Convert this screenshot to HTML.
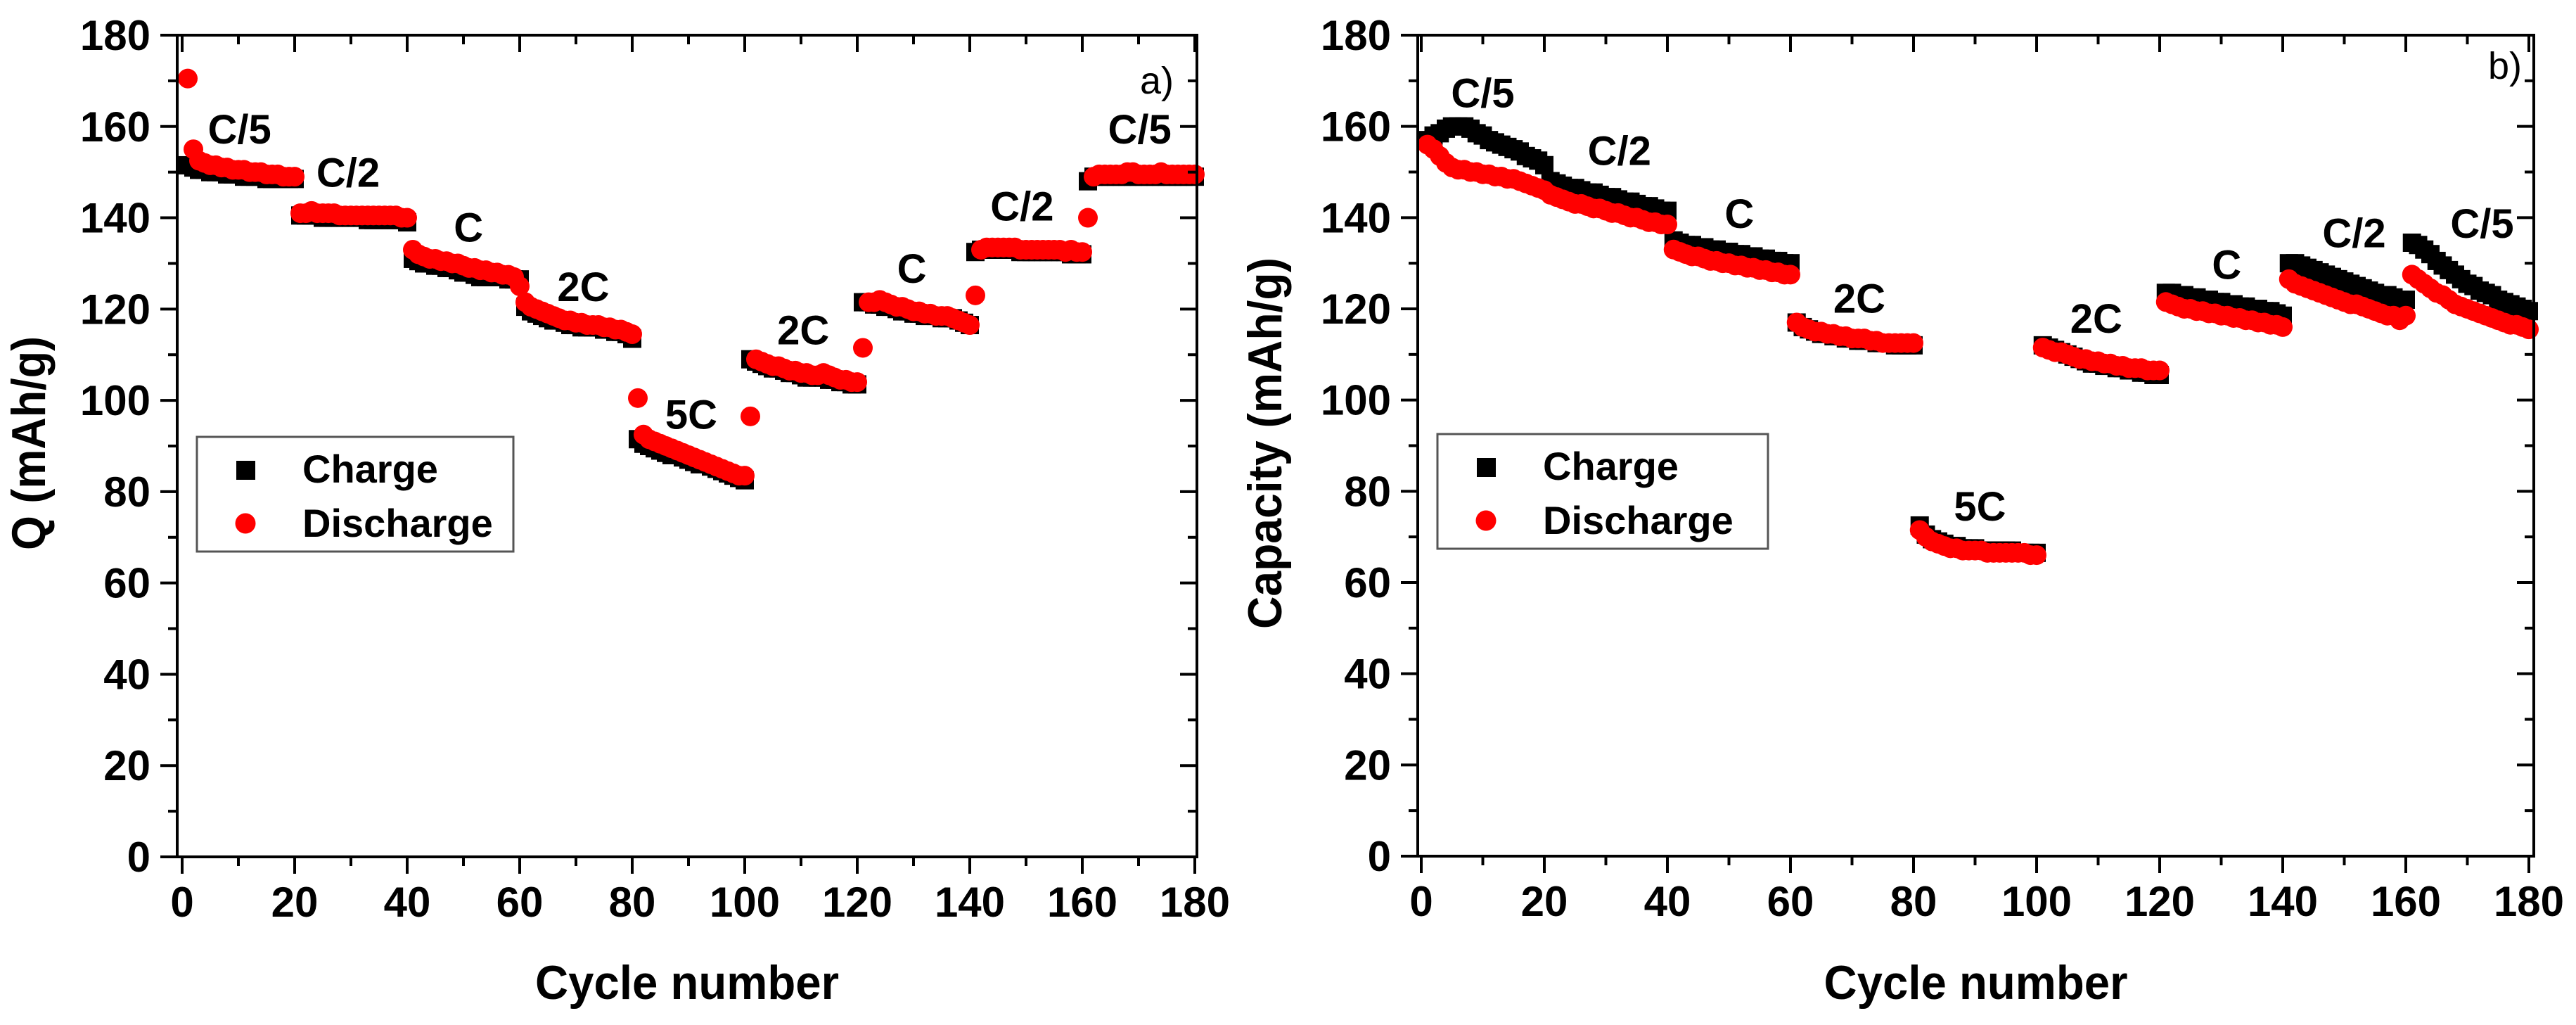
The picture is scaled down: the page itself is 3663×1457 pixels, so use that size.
<!DOCTYPE html>
<html><head><meta charset="utf-8"><style>
html,body{margin:0;padding:0;background:#fff;}
svg{display:block;font-family:"Liberation Sans",Arial,sans-serif;}
</style></head><body>
<svg id="chart" width="3663" height="1457" viewBox="0 0 3663 1457" xmlns="http://www.w3.org/2000/svg"></svg>
<script>
// ---- data ----
const xTicks = [0,20,40,60,80,100,120,140,160,180];
const yTicks = [0,20,40,60,80,100,120,140,160,180];
const leftCharge = [151.5,151,150.5,150.5,150,150,150,149.5,149.5,149.5,149,149,149,149,148.5,148.5,148.5,148.5,148.5,148.5,
140.5,140.5,140.5,140.5,140,140,140,140,140,140,140,140,139.5,139.5,139.5,139.5,139.5,139.5,139.5,139,
131,130.5,130,130,129.5,129.5,129,129,128.5,128,128,127.5,127,127,127,127,127,126.5,126.5,126.5,
120.5,119.5,119,118.5,118,117.5,117.5,117,116.5,116.5,116,116,116,116,115.5,115.5,115,115,114.5,113.5,
91.5,90.5,90,89.5,89,88.5,88,88,87.5,87,86.5,86,86,85.5,85,84.5,84,83.5,83,82.5,
109,108.5,108,107.5,107,107,106.5,106,106,105.5,105,105,105,105,104.5,104.5,104,104,103.5,103.5,
121.5,121.5,121,121,120.5,120.5,120,119.5,119.5,119,119,118.5,118.5,118.5,118,118,118,117.5,117,116.5,
132.5,133,133,133,133,133,133,133,132.5,132.5,132.5,132.5,132.5,132.5,132.5,132.5,132.5,132,132,132,
148,149,149,149,149,149,149,149,149,149,149,149,149,149,149,149,149,149,149,149];
const leftDischarge = [170.5,155,152.5,152,151.5,151.5,151,151,150.5,150.5,150.5,150,150,150,149.5,149.5,149.5,149,149,149,
141,141,141.5,141,141,141,141,140.5,140.5,140.5,140.5,140.5,140.5,140.5,140.5,140.5,140.5,140.5,140,140,
133,132,131.5,131,131,130.5,130.5,130,130,129.5,129,129,128.5,128.5,128,128,127.5,127.5,127,125,
121.5,120.5,120,119.5,119,118.5,118,117.5,117.5,117,117,116.5,116.5,116.5,116,116,115.5,115.5,115,114.5,
100.5,92.5,91.5,91,90.5,90,89.5,89,88.5,88,87.5,87,86.5,86,85.5,85,84.5,84,83.5,83.5,
96.5,109,108.5,108,107.5,107.5,107,106.5,106.5,106,106,105.5,105.5,106,105.5,105,104.5,104.5,104,104,
111.5,121.5,121.5,122,121.5,121,120.5,120.5,120,119.5,119.5,119,119,118.5,118.5,118.5,118,117.5,117,116.5,
123,133,133.5,133.5,133.5,133.5,133.5,133.5,133,133,133,133,133,133,133,133,132.5,133,132.5,132.5,
140,149,149.5,149.5,149.5,149.5,149.5,150,150,149.5,149.5,149.5,149.5,150,149.5,149.5,149.5,149.5,149.5,149.5];
const rightCharge = [157,158,158.5,159.5,160,160,160,159.5,158.5,158,157,156.5,156,155.5,155,154.5,153.5,153,152.5,151.5,
148,147.5,147,146.5,146.5,146,145.5,145.5,145,144.5,144.5,144,143.5,143.5,143,142.5,142.5,142,141.5,141.5,
135,134.5,134,134,133.5,133.5,133,133,132.5,132.5,132,132,131.5,131.5,131,131,130.5,130.5,130,130,
117,116,115.5,115,114.5,114.5,114,114,113.5,113.5,113,113,113,112.5,112.5,112.5,112,112,112,112,
72.5,70.5,69.5,69,68.5,68,68,67.5,67.5,67.5,67,67,67,67,67,67,66.5,66.5,66.5,66.5,
112,111.5,111,110.5,110,109.5,109,108.5,108,108,107.5,107.5,107,107,106.5,106.5,106,106,105.5,105.5,
123.5,123.5,123,123,122.5,122.5,122,122,121.5,121.5,121,121,120.5,120.5,120,120,119.5,119.5,119,118.5,
130,130,129.5,129,128.5,128,127.5,127,126.5,126,125.5,125,124.5,124,123.5,123,123,122.5,122,122,
134.5,134,133,132,130.5,129.5,128.5,127.5,126.5,125.5,125,124,123.5,123,122,121.5,121,120.5,120,119.5];
const rightDischarge = [156,155,153.5,152,151,150.5,150.5,150,150,149.5,149.5,149,149,148.5,148.5,148,147.5,147,146.5,146,
145,144.5,144,143.5,143,143,142.5,142,142,141.5,141,141,140.5,140,140,139.5,139,139,138.5,138.5,
133,132.5,132,131.5,131.5,131,130.5,130.5,130,130,129.5,129.5,129,129,128.5,128.5,128,128,127.5,127.5,
117,116,115.5,115,115,114.5,114.5,114,114,113.5,113.5,113.5,113,113,112.5,112.5,112.5,112.5,112.5,112.5,
71.5,70,69,68.5,68,67.5,67.5,67,67,67,67,66.5,66.5,66.5,66.5,66.5,66.5,66.5,66,66,
111.5,111,110.5,110.5,110,109.5,109,109,108.5,108.5,108,108,107.5,107.5,107,107,107,106.5,106.5,106.5,
121.5,121,120.5,120,120,119.5,119.5,119,119,118.5,118.5,118,118,117.5,117.5,117,117,116.5,116.5,116,
126.5,125.5,125,124.5,124,123.5,123,122.5,122,121.5,121,121,120.5,120,119.5,119,118.5,118.5,117.5,118.5,
127.5,126.5,125.5,124.5,123.5,123,122,121,120.5,120,119.5,119,118.5,118,117.5,117,116.5,116.5,116,115.5];
const leftRateLabels = ["C/5","C/2","C","2C","5C","2C","C","C/2","C/5"];
const leftRateX = [10.2,29.5,50.9,71.3,90.5,110.4,129.7,149.3,170.2];
const leftRateY = [159.5,150,138,125,97,115.5,129,142.6,159.5];
const rightRateLabels = ["C/5","C/2","C","2C","5C","2C","C","C/2","C/5"];
const rightRateX = [10,32.2,51.7,71.2,90.8,109.7,130.9,151.6,172.4];
const rightRateY = [167.4,154.8,141,122.4,76.8,118,129.8,136.7,138.8];

const NS = "http://www.w3.org/2000/svg";
const svg = document.getElementById('chart');
function mk(tag, attrs, parent){
  const e = document.createElementNS(NS, tag);
  for (const k in attrs) e.setAttribute(k, attrs[k]);
  (parent||svg).appendChild(e);
  return e;
}

function drawPanel(p){
  const g = mk('g', {});
  
  
  const xs = v => p.x0 + (v - 0) * (p.x180 - p.x0) / 180;
  const ys = v => p.y0 - v * (p.y0 - p.y180) / 180;
  // series
  const sc = mk('g', {}, g);
  
  
  p.charge.forEach((v, i) => {
    const r = mk('rect', {x: xs(i+1)-13, y: ys(v)-13, width: 26, height: 26, fill: '#000'}, sc);
    
    
  });
  const sd = mk('g', {}, g);
  
  
  p.discharge.forEach((v, i) => {
    const c = mk('circle', {cx: xs(i+1), cy: ys(v), r: 14, fill: '#ff0000'}, sd);
    
    
  });
  // frame
  const fr = mk('rect', {x: p.left, y: p.top, width: p.right - p.left, height: p.y0 - p.top, fill: 'none', stroke: '#000', 'stroke-width': 4}, g);
  
  
  // x ticks
  for (let v = 0; v <= 180; v += 10) {
    const major = v % 20 === 0;
    const X = xs(v);
    mk('line', {x1: X, y1: p.y0, x2: X, y2: p.y0 + (major ? 24 : 13), stroke: '#000', 'stroke-width': 4}, g);
    mk('line', {x1: X, y1: p.top, x2: X, y2: p.top + (major ? 24 : 13), stroke: '#000', 'stroke-width': 4}, g);
  }
  xTicks.forEach(v => {
    const t = mk('text', {x: xs(v), y: p.y0 + 85, 'text-anchor': 'middle', 'font-size': 60, 'font-weight': 'bold'}, g);
    
    
    t.textContent = v;
  });
  // y ticks
  for (let v = 0; v <= 180; v += 10) {
    const major = v % 20 === 0;
    const Y = ys(v);
    mk('line', {x1: p.left, y1: Y, x2: p.left - (major ? 24 : 13), y2: Y, stroke: '#000', 'stroke-width': 4}, g);
    mk('line', {x1: p.right, y1: Y, x2: p.right - (major ? 24 : 13), y2: Y, stroke: '#000', 'stroke-width': 4}, g);
  }
  yTicks.forEach(v => {
    const t = mk('text', {x: p.left - 38, y: ys(v) + 21, 'text-anchor': 'end', 'font-size': 60, 'font-weight': 'bold'}, g);
    
    
    t.textContent = v;
  });
  // rate labels
  p.labels.forEach((s, i) => {
    const t = mk('text', {x: xs(p.lx[i]), y: ys(p.ly[i]) + 21, 'text-anchor': 'middle', 'font-size': 58, 'font-weight': 'bold'}, g);
    
    
    t.textContent = s;
  });
  // panel letter
  const pl = mk('text', {x: p.letterX, y: p.letterY, 'text-anchor': 'middle', 'font-size': 54}, g);
  
  
  pl.textContent = p.letter;
  // axis titles
  const xt = mk('text', {x: (p.left + p.right)/2, y: 1420, 'text-anchor': 'middle', 'font-size': 68, 'font-weight': 'bold', textLength: 432, lengthAdjust: 'spacingAndGlyphs'}, g);
  
  
  xt.textContent = 'Cycle number';
  const yt = mk('text', {x: 0, y: 0, 'text-anchor': 'middle', 'font-size': 68, 'font-weight': 'bold', textLength: p.ytLen, lengthAdjust: 'spacingAndGlyphs', transform: `translate(${p.ytX},${p.ytY}) rotate(-90)`}, g);
  
  
  yt.textContent = p.ytitle;
  // legend
  const lg = mk('g', {}, g);
  
  
  mk('rect', {x: p.lgX, y: p.lgY, width: p.lgW, height: 163, fill: '#fff', stroke: '#555', 'stroke-width': 3}, lg);
  const e1 = mk('rect', {x: p.lgX + 56, y: p.lgY + 34, width: 27, height: 27, fill: '#000'}, lg);
  
  
  const e2 = mk('circle', {cx: p.lgX + 69, cy: p.lgY + 123, r: 14.5, fill: '#ff0000'}, lg);
  
  
  const t1 = mk('text', {x: p.lgX + 150, y: p.lgY + 65, 'font-size': 56, 'font-weight': 'bold'}, lg);
  
  
  t1.textContent = 'Charge';
  const t2 = mk('text', {x: p.lgX + 150, y: p.lgY + 142, 'font-size': 56, 'font-weight': 'bold'}, lg);
  
  
  t2.textContent = 'Discharge';
}

drawPanel({name: 'panel-a', left: 252, right: 1702, top: 50, x0: 259, x180: 1699, y0: 1218, y180: 50,
  charge: leftCharge, discharge: leftDischarge, labels: leftRateLabels, lx: leftRateX, ly: leftRateY,
  letter: 'a)', letterX: 1645, letterY: 133, ytitle: 'Q (mAh/g)', ytX: 64, ytY: 630, ytLen: 304,
  lgX: 280, lgY: 621, lgW: 450});
drawPanel({name: 'panel-b', left: 2016, right: 3603, top: 50, x0: 2021, x180: 3596, y0: 1217, y180: 50,
  charge: rightCharge, discharge: rightDischarge, labels: rightRateLabels, lx: rightRateX, ly: rightRateY,
  letter: 'b)', letterX: 3562, letterY: 112, ytitle: 'Capacity (mAh/g)', ytX: 1822, ytY: 630, ytLen: 528,
  lgX: 2044, lgY: 617, lgW: 470});
</script>
</body></html>
